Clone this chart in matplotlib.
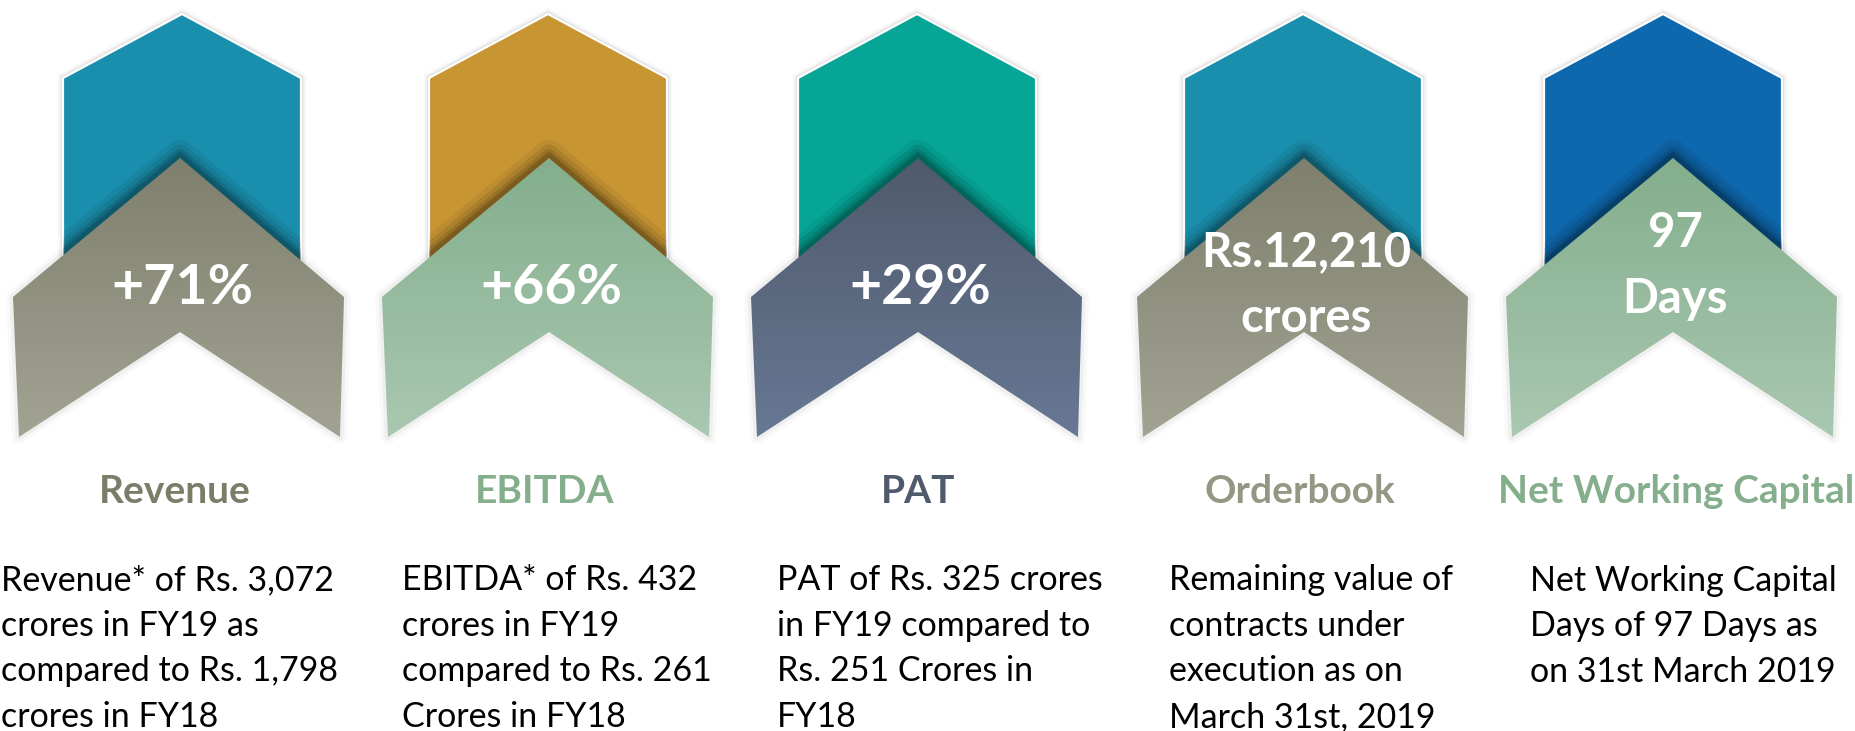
import numpy as np
import matplotlib.pyplot as plt
from matplotlib.patches import Polygon
from matplotlib.colors import to_rgb

# data
titles = ["Revenue", "EBITDA", "PAT", "Orderbook", "Net Working Capital"]
badges = ["+71%", "+66%", "+29%", "Rs.12,210\ncrores", "97\nDays"]
descriptions = [
    "Revenue* of Rs. 3,072\ncrores in FY19 as\ncompared to Rs. 1,798\ncrores in FY18",
    "EBITDA* of Rs. 432\ncrores in FY19\ncompared to Rs. 261\nCrores in FY18",
    "PAT of Rs. 325 crores\nin FY19 compared to\nRs. 251 Crores in\nFY18",
    "Remaining value of\ncontracts under\nexecution as on\nMarch 31st, 2019",
    "Net Working Capital\nDays of 97 Days as\non 31st March 2019",
]

# styling / layout
top_colors = ["#1a8fad", "#c89533", "#06a596", "#1a8fad", "#0e68ad"]
chev_top = ["#7e7f6c", "#84ae8c", "#4f5a6c", "#7e7f6c", "#84ae8c"]
chev_bot = ["#a3a394", "#a9c8b1", "#687894", "#a3a394", "#a9c8b1"]
title_colors = ["#7b7d69", "#84ae8c", "#4f5a6c", "#959683", "#84ae8c"]
badge_sizes = [40, 40, 40, 34, 34]
badge_last_base = [304, 304, 304, 332, 313]   # baseline of the last line
pent_cx = [182, 548, 917, 1303, 1663]
chev_cx = [180, 549, 918, 1304, 1673]
title_cx = [175, 545, 918, 1300, 1676]
desc_x = [1, 402, 777, 1169, 1530]
desc_first_base = 592
desc_step = 45

W, H = 1855, 731
plt.rcParams['font.family'] = ['Lato', 'DejaVu Sans']

fig = plt.figure(figsize=(W / 100, H / 100), dpi=100)
ax = fig.add_axes([0, 0, 1, 1])
ax.set_xlim(0, W)
ax.set_ylim(H, 0)
ax.axis('off')


def pentagon(cx):
    return [(cx, 14), (cx + 119, 78), (cx + 119, 300), (cx - 119, 300), (cx - 119, 78)]


def chevron(cx):
    return [(cx, 158), (cx + 164, 297), (cx + 160, 437), (cx, 332),
            (cx - 161, 437), (cx - 167, 297)]


for i in range(len(titles)):
    # back pentagon with soft glow and white edge
    pts = pentagon(pent_cx[i])
    for lw, a in [(8, 0.025), (5, 0.04), (3, 0.06)]:
        ax.add_patch(Polygon(pts, closed=True, fill=False, ec='black', lw=lw, alpha=a,
                             joinstyle='miter', zorder=1))
    pent = Polygon(pts, closed=True, fc=top_colors[i], ec='white', lw=1.6, zorder=2)
    ax.add_patch(pent)

    # chevron shadow: faint all round, darker where it falls on the pentagon
    cpts = chevron(chev_cx[i])
    for lw, a in [(10, 0.025), (5, 0.04)]:
        ax.add_patch(Polygon(cpts, closed=True, fill=False, ec='black', lw=lw, alpha=a,
                             joinstyle='round', zorder=3))
    shadow = [(x, y - 3) for x, y in cpts]
    for lw, a in [(22, 0.06), (15, 0.08), (9, 0.1), (4, 0.14)]:
        sp = Polygon(shadow, closed=True, fill=False, ec='black', lw=lw, alpha=a,
                     joinstyle='round', zorder=3)
        ax.add_patch(sp)
        sp.set_clip_path(pent)

    # chevron with vertical gradient
    poly = Polygon(cpts, closed=True, fc='none', ec='none', zorder=4)
    ax.add_patch(poly)
    c0 = np.array(to_rgb(chev_top[i]))
    c1 = np.array(to_rgb(chev_bot[i]))
    t = np.linspace(0, 1, 200)[:, None]
    grad = (c0 * (1 - t) + c1 * t)[:, None, :]
    xs = [p[0] for p in cpts]
    im = ax.imshow(grad, extent=(min(xs), max(xs), 437, 158), origin='upper',
                   aspect='auto', zorder=4, interpolation='bilinear')
    im.set_clip_path(poly)

    # badge text (va='baseline' on multi-line text anchors the last line)
    ax.text(chev_cx[i] + 2, badge_last_base[i], badges[i], ha='center', va='baseline',
            color='white', fontsize=badge_sizes[i], fontweight='bold',
            linespacing=1.62, zorder=6)

    # title and description
    ax.text(title_cx[i], 503, titles[i], ha='center', va='baseline', color=title_colors[i],
            fontsize=28, fontweight='bold')
    n = descriptions[i].count("\n")
    ax.text(desc_x[i], desc_first_base + desc_step * n, descriptions[i], ha='left',
            va='baseline', color='black', fontsize=24.5, linespacing=1.52)

ax.set_xlim(0, W)
ax.set_ylim(H, 0)
fig.savefig("out.png", dpi=100, facecolor='white')
